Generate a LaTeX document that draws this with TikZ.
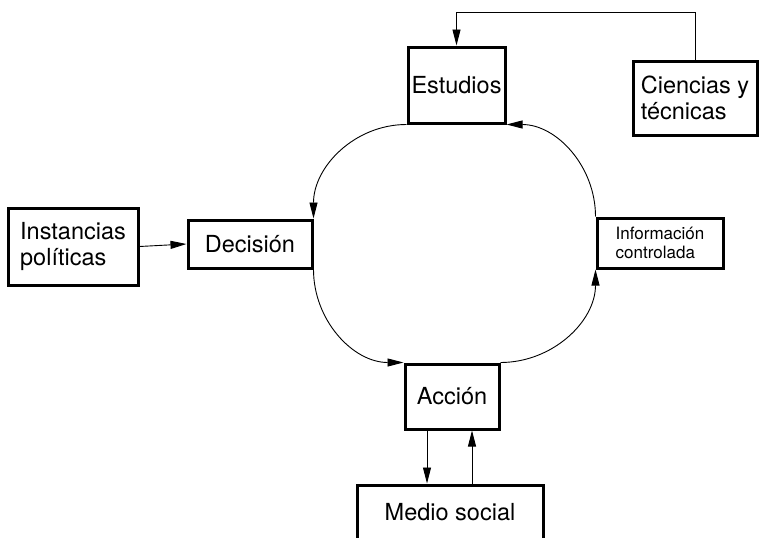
\documentclass[tikz,border=0pt]{standalone}
\usepackage{fontspec}
\setmainfont{TeX Gyre Heros}
\usetikzlibrary{arrows.meta}
\begin{document}
\begin{tikzpicture}[x=1pt,y=-1pt,
  box/.style={draw,line width=3pt,rectangle,inner sep=0pt,align=left},
  bigtext/.style={font=\fontsize{23.5}{26.5}\selectfont},
  smalltext/.style={font=\fontsize{17}{19.5}\selectfont},
  link/.style={line width=0.9pt,-{Triangle[length=16pt,width=8pt]}},
]
\useasboundingbox (0,0) rectangle (763,538);
\clip (0,0) rectangle (763,538);

% boxes
\node[box,bigtext,minimum width=97pt,minimum height=76pt] (est) at (456.5,85) {Estudios};
\node[box,bigtext,minimum width=124pt,minimum height=74pt] (cien) at (695,98) {Ciencias y\\t\'ecnicas};
\node[box,bigtext,minimum width=130pt,minimum height=77pt] (inst) at (73,246.5) {Instancias\\pol\'iticas};
\node[box,bigtext,minimum width=124pt,minimum height=48pt] (dec) at (250,244) {Decisi\'on};
\node[box,smalltext,minimum width=126pt,minimum height=50pt] (info) at (660,243) {Informaci\'on\\controlada};
\node[box,bigtext,minimum width=94pt,minimum height=65pt] (acc) at (452,396.5) {Acci\'on};
\node[box,minimum width=186pt,minimum height=60pt] (med) at (450,515) {};
\node[bigtext] (medtxt) at (450,512) {Medio social};

% feedback from sciences to studies
\coordinate (topline) at (0,12);
\draw[link] (cien.north) -- (cien.north |- topline) -| (est.north);

% political input
\draw[link] (inst.east) -- (dec.west);

% the cycle
\draw[link] (est.south west) to[out=180,in=90] (dec.north east);
\draw[link] (dec.south east) to[out=-90,in=180] (acc.north west);
\draw[link] (acc.north east) to[out=0,in=-90] (info.south west);
\draw[link] (info.north west) to[out=90,in=0] (est.south east);

% action and social environment
\draw[link] ([xshift=-25pt]acc.south) -- ([xshift=-25pt]acc.south |- med.north);
\draw[link] ([xshift=20pt]acc.south |- med.north) -- ([xshift=20pt]acc.south);
\end{tikzpicture}
\end{document}
